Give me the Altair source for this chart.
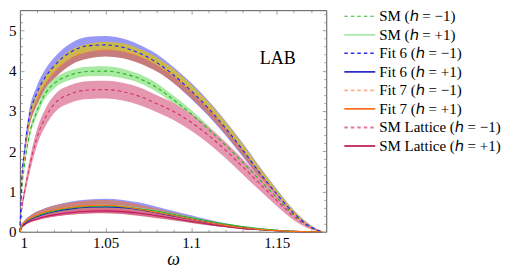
import altair as alt
import pandas as pd

# ---------------- data ----------------
W = [1.0, 1.001, 1.0025, 1.005, 1.01, 1.015, 1.02, 1.03, 1.04, 1.05, 1.06, 1.07,
     1.08, 1.09, 1.10, 1.11, 1.12, 1.13, 1.14, 1.15, 1.16, 1.17, 1.1765]

# h = -1 central curves
sm_m   = [0, 1.0, 1.6, 2.3, 3.0, 3.45, 3.68, 3.9, 3.98, 3.99, 3.93, 3.8, 3.58, 3.27, 2.93, 2.55, 2.15, 1.73, 1.29, 0.85, 0.42, 0.11, 0]
fit6_m = [0, 1.25, 1.95, 2.75, 3.45, 3.85, 4.12, 4.47, 4.62, 4.64, 4.58, 4.43, 4.2, 3.88, 3.5, 3.07, 2.58, 2.04, 1.47, 0.94, 0.46, 0.12, 0]
fit7_m = [0, 1.15, 1.85, 2.62, 3.3, 3.7, 3.97, 4.32, 4.47, 4.52, 4.48, 4.35, 4.14, 3.85, 3.48, 3.05, 2.57, 2.03, 1.47, 0.94, 0.46, 0.12, 0]
lat_m  = [0, 0.55, 0.95, 1.5, 2.35, 2.85, 3.17, 3.43, 3.52, 3.53, 3.48, 3.36, 3.18, 2.98, 2.72, 2.4, 2.03, 1.62, 1.2, 0.78, 0.38, 0.1, 0]

# h = -1 band half widths
sm_m_hw     = [0, 0.05, 0.07, 0.09, 0.11, 0.12, 0.12, 0.12, 0.12, 0.12, 0.12, 0.11, 0.11, 0.1, 0.1, 0.09, 0.08, 0.07, 0.06, 0.05, 0.03, 0.01, 0]
fit6_m_hw   = [0, 0.08, 0.12, 0.15, 0.18, 0.2, 0.21, 0.22, 0.22, 0.22, 0.22, 0.21, 0.21, 0.2, 0.2, 0.19, 0.18, 0.17, 0.15, 0.12, 0.08, 0.04, 0]
fit7_m_up   = [0, 0.07, 0.1, 0.13, 0.16, 0.18, 0.19, 0.2, 0.2, 0.2, 0.2, 0.19, 0.19, 0.18, 0.18, 0.17, 0.16, 0.15, 0.13, 0.1, 0.07, 0.03, 0]
fit7_m_down = [0, 0.07, 0.1, 0.13, 0.15, 0.16, 0.17, 0.17, 0.17, 0.17, 0.17, 0.17, 0.16, 0.16, 0.16, 0.15, 0.14, 0.13, 0.12, 0.09, 0.06, 0.03, 0]
lat_m_hw    = [0, 0.08, 0.12, 0.16, 0.2, 0.22, 0.22, 0.22, 0.22, 0.22, 0.22, 0.22, 0.21, 0.21, 0.21, 0.2, 0.2, 0.19, 0.17, 0.14, 0.09, 0.04, 0]

# h = +1 central curves
sm_p   = [0, 0.14, 0.22, 0.3, 0.4, 0.47, 0.52, 0.59, 0.63, 0.64, 0.62, 0.57, 0.51, 0.43, 0.35, 0.27, 0.19, 0.13, 0.08, 0.04, 0.015, 0.003, 0]
fit6_p = [0, 0.13, 0.2, 0.28, 0.38, 0.45, 0.5, 0.57, 0.61, 0.62, 0.6, 0.55, 0.47, 0.39, 0.31, 0.23, 0.16, 0.1, 0.06, 0.03, 0.01, 0.002, 0]
fit7_p = [0, 0.15, 0.23, 0.31, 0.42, 0.49, 0.54, 0.61, 0.65, 0.66, 0.63, 0.56, 0.48, 0.4, 0.31, 0.23, 0.16, 0.1, 0.06, 0.03, 0.01, 0.002, 0]
lat_p  = [0, 0.11, 0.17, 0.24, 0.32, 0.38, 0.42, 0.48, 0.51, 0.52, 0.5, 0.46, 0.4, 0.33, 0.26, 0.19, 0.13, 0.08, 0.05, 0.025, 0.008, 0.001, 0]

# h = +1 relative band widths (up, down)
sm_p_rel   = (0.05, 0.05)
fit6_p_rel = (0.32, 0.18)
fit7_p_rel = (0.2, 0.3)
lat_p_rel  = (0.1, 0.1)

legend_labels = ["SM (ℎ = −1)", "SM (ℎ = +1)", "Fit 6 (ℎ = −1)", "Fit 6 (ℎ = +1)",
                 "Fit 7 (ℎ = −1)", "Fit 7 (ℎ = +1)", "SM Lattice (ℎ = −1)", "SM Lattice (ℎ = +1)"]
x_major = [1, 1.05, 1.1, 1.15]
x_minor = [1.01, 1.02, 1.03, 1.04, 1.06, 1.07, 1.08, 1.09, 1.11, 1.12, 1.13, 1.14, 1.16, 1.17]
y_major = [0, 1, 2, 3, 4, 5]
y_minor = [0.2, 0.4, 0.6, 0.8, 1.2, 1.4, 1.6, 1.8, 2.2, 2.4, 2.6, 2.8, 3.2, 3.4, 3.6, 3.8,
           4.2, 4.4, 4.6, 4.8, 5.2, 5.4]
annot_text = ["LAB"]
annot_w = [1.1506]
annot_v = [4.3]

# ---------------- styles ----------------
FONT = "Liberation Serif"
TICK = "#8a8a8a"
xs = alt.Scale(domain=[1, 1.179], nice=False, zero=False)
ys = alt.Scale(domain=[0, 5.5], nice=False, zero=False)


def band_df(lo, hi):
    return pd.DataFrame({"w": W, "lo": lo, "hi": hi})


def abs_band(c, dn, up):
    return band_df([a - b for a, b in zip(c, dn)], [a + b for a, b in zip(c, up)])


def rel_band(c, rel):
    return band_df([a * (1 - rel[1]) for a in c], [a * (1 + rel[0]) for a in c])


bands = [
    (abs_band(fit6_m, fit6_m_hw, fit6_m_hw), "#9898f7"),
    (abs_band(fit7_m, fit7_m_down, [0] * len(W)), "#c77c7c"),
    (abs_band(fit7_m, [0] * len(W), fit7_m_up), "#cbb850"),
    (abs_band(sm_m, sm_m_hw, sm_m_hw), "#a8eaa2"),
    (abs_band(lat_m, lat_m_hw, lat_m_hw), "#e697b0"),
    (rel_band(fit6_p, fit6_p_rel), "#9898f7"),
    (rel_band(fit7_p, fit7_p_rel), "#c98282"),
    (rel_band(sm_p, sm_p_rel), "#98dd98"),
    (rel_band(lat_p, lat_p_rel), "#d9668f"),
]

curves = [
    (lat_m, "#d42f6a", True), (sm_m, "#22b522", True), (fit7_m, "#ff8a2a", True), (fit6_m, "#2020ff", True),
    (lat_p, "#c01a55", False), (fit6_p, "#1818c8", False), (sm_p, "#2fae2f", False), (fit7_p, "#ff7010", False),
]

layers = []
for df, col in bands:
    layers.append(
        alt.Chart(df).mark_area(color=col, opacity=1, interpolate="monotone").encode(
            x=alt.X("w:Q", scale=xs, axis=None),
            y=alt.Y("lo:Q", scale=ys, axis=None),
            y2="hi:Q",
        )
    )
for vals, col, dashed in curves:
    df = pd.DataFrame({"w": W, "v": vals})
    kw = dict(color=col, strokeWidth=1.1, interpolate="monotone")
    if dashed:
        kw["strokeDash"] = [3.5, 3]
    layers.append(
        alt.Chart(df).mark_line(**kw).encode(
            x=alt.X("w:Q", scale=xs, axis=None),
            y=alt.Y("v:Q", scale=ys, axis=None),
        )
    )

ann = pd.DataFrame({"t": annot_text, "w": annot_w, "v": annot_v})
layers.append(
    alt.Chart(ann).mark_text(font=FONT, fontSize=18, color="black").encode(
        x=alt.X("w:Q", scale=xs, axis=None),
        y=alt.Y("v:Q", scale=ys, axis=None),
        text="t:N",
    )
)

axdf = pd.DataFrame({"w": W, "v": fit6_m})


def axis_layer(xaxis, yaxis):
    return alt.Chart(axdf).mark_point(opacity=0).encode(
        x=alt.X("w:Q", scale=xs, axis=xaxis),
        y=alt.Y("v:Q", scale=ys, axis=yaxis),
    )


def tick_axis(orient, values, size):
    return alt.Axis(orient=orient, values=values, ticks=True, tickSize=size, offset=-size,
                    labels=False, domain=False, title=None, tickColor=TICK, tickWidth=0.8, grid=False)


layers.append(axis_layer(
    alt.Axis(orient="bottom", values=x_major, ticks=False, domain=False, labelExpr="toString(datum.value)",
             labelFont=FONT, labelFontSize=15, labelColor="black", labelPadding=4,
             title="ω", titleFont=FONT, titleFontSize=18, titleFontStyle="italic", titleFontWeight="normal",
             titleColor="black", titlePadding=0, grid=False),
    alt.Axis(orient="left", values=y_major, ticks=False, domain=False, labelFont=FONT, labelFontSize=15,
             labelColor="black", labelPadding=4, title=None, grid=False),
))
layers.append(axis_layer(tick_axis("bottom", x_major, 4), tick_axis("left", y_major, 4)))
layers.append(axis_layer(tick_axis("bottom", x_minor, 2.5), tick_axis("left", y_minor, 2.5)))
layers.append(axis_layer(tick_axis("top", x_major, 4), tick_axis("right", y_major, 4)))
layers.append(axis_layer(tick_axis("top", x_minor, 2.5), tick_axis("right", y_minor, 2.5)))

main = alt.layer(*layers).resolve_axis(x="independent", y="independent").properties(width=307, height=222)

# ---------------- legend panel ----------------
leg_colors = ["#33bb33", "#86e186", "#2a2aff", "#2c2cc8", "#ffae85", "#ff7020", "#e07ba0", "#c83a6a"]
leg_dash = [[3.5, 3], [1, 0], [3.5, 3], [1, 0], [3.5, 3], [1, 0], [3.5, 3], [1, 0]]
leg_width = [1.1, 2.2, 1.1, 1.1, 1.1, 1.1, 1.1, 1.1]
legdf = pd.DataFrame({"label": legend_labels})
ly = alt.Y("label:N", sort=legend_labels, scale=alt.Scale(type="point", range=[6, 136], padding=0), axis=None)
leg_rules = alt.Chart(legdf).mark_rule().encode(
    x=alt.value(0), x2=alt.value(31), y=ly,
    color=alt.Color("label:N", scale=alt.Scale(domain=legend_labels, range=leg_colors), legend=None),
    strokeDash=alt.StrokeDash("label:N", scale=alt.Scale(domain=legend_labels, range=leg_dash), legend=None),
    strokeWidth=alt.StrokeWidth("label:N", scale=alt.Scale(domain=legend_labels, range=leg_width), legend=None),
)
leg_text = alt.Chart(legdf).mark_text(align="left", baseline="middle", font=FONT, fontSize=15, color="black").encode(
    x=alt.value(35), y=ly, text="label:N"
)
legend = alt.layer(leg_rules, leg_text).properties(width=160, height=222, view=alt.ViewBackground(stroke="transparent"))

chart = alt.hconcat(main, legend, spacing=15).properties(
    padding={"left": 0, "top": 0, "right": 0, "bottom": 0}
).configure_view(stroke="#444444", strokeWidth=0.9).configure_axis(grid=False)

chart.save("out.html", embed_options={"renderer": "svg", "actions": False})
